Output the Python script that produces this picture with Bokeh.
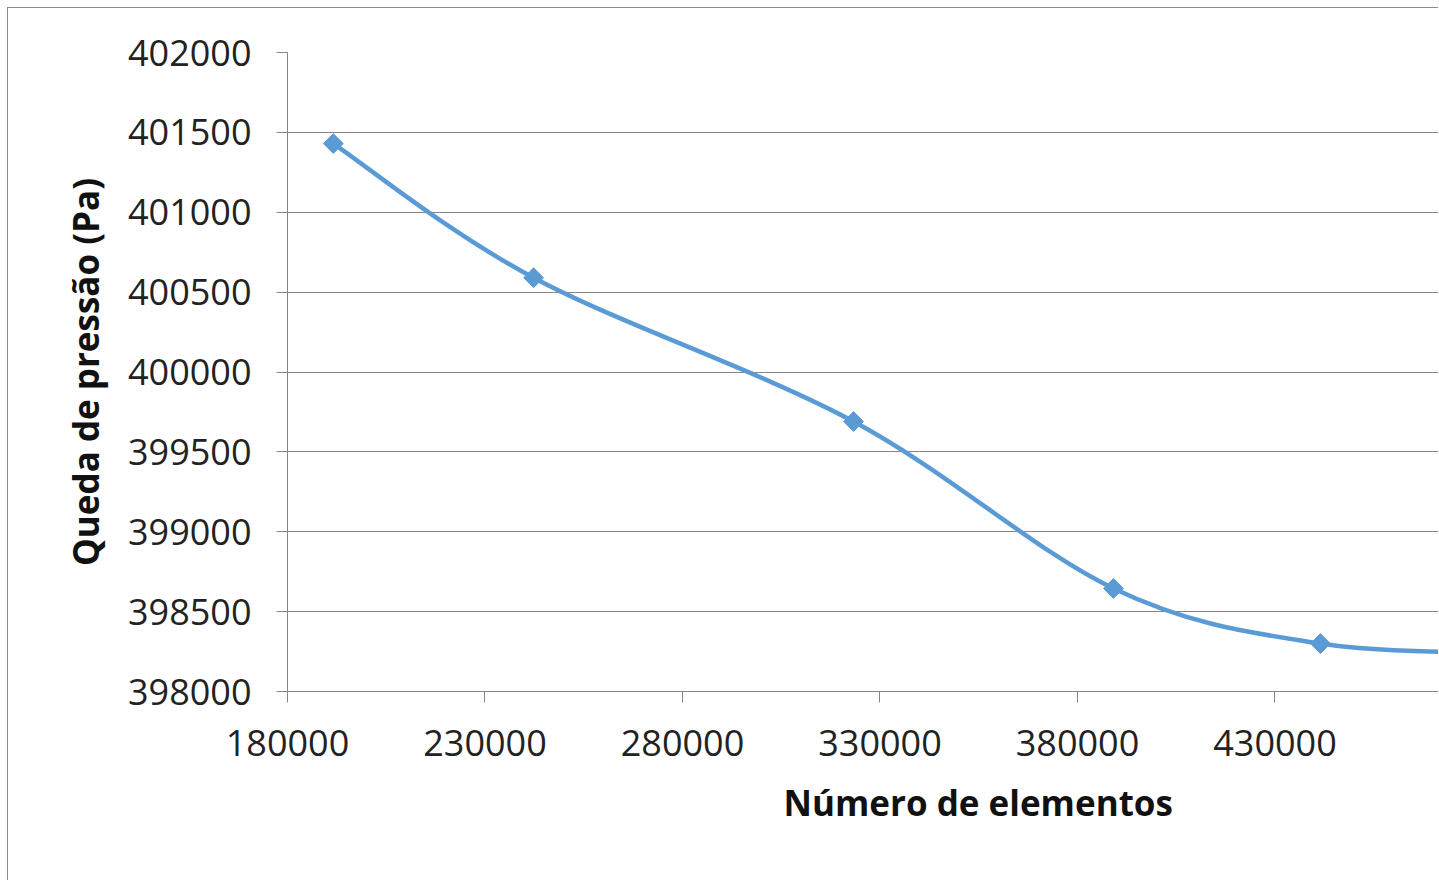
import numpy as np
from bokeh.plotting import figure
from bokeh.models import FixedTicker, BasicTickFormatter, Range1d, Title
from bokeh.embed import file_html
from bokeh.resources import INLINE

# Data
elements = [191600, 242300, 323300, 389100, 441500, 495000]
pressure_drop = [401430, 400590, 399690, 398645, 398300, 398240]
x_ticks = [180000, 230000, 280000, 330000, 380000, 430000, 480000]
y_ticks = [398000, 398500, 399000, 399500, 400000, 400500, 401000, 401500, 402000]
x_title = "Número de elementos"
y_title = "Queda de pressão (Pa)"

BLUE = "#5B9BD5"
GRAY = "#868686"
FONT = "Open Sans"

p = figure(width=1431, height=873, output_backend="svg", toolbar_location=None,
           x_range=Range1d(180000, 471646), y_range=Range1d(398000, 402000),
           min_border_left=279, min_border_top=44, min_border_right=0, min_border_bottom=190)
p.styles = {"border-left": "1px solid #8c8c8c", "border-top": "1px solid #8c8c8c",
            "margin-left": "7px", "margin-top": "7px"}
p.outline_line_color = None
p.background_fill_color = "white"
p.border_fill_color = "white"

# smooth line (Catmull-Rom style Bezier segments through the points)
xs = np.array(elements, dtype=float)
ys = np.array(pressure_drop, dtype=float)
n = len(xs)
x0, y0, x1, y1, cx0, cy0, cx1, cy1 = [], [], [], [], [], [], [], []
for i in range(n - 1):
    ip = max(i - 1, 0)
    inx = min(i + 2, n - 1)
    x0.append(xs[i]); y0.append(ys[i])
    x1.append(xs[i + 1]); y1.append(ys[i + 1])
    cx0.append(xs[i] + (xs[i + 1] - xs[ip]) / 6); cy0.append(ys[i] + (ys[i + 1] - ys[ip]) / 6)
    cx1.append(xs[i + 1] - (xs[inx] - xs[i]) / 6); cy1.append(ys[i + 1] - (ys[inx] - ys[i]) / 6)
p.bezier(x0=x0, y0=y0, x1=x1, y1=y1, cx0=cx0, cy0=cy0, cx1=cx1, cy1=cy1,
         line_color=BLUE, line_width=4.5)
p.scatter(elements, pressure_drop, marker="square", angle=np.pi / 4, size=14,
          fill_color=BLUE, line_color=BLUE)

# axes
for ax in (p.xaxis[0], p.yaxis[0]):
    ax.formatter = BasicTickFormatter(use_scientific=False)
    ax.axis_line_color = GRAY
    ax.major_tick_line_color = GRAY
    ax.major_tick_out = 11
    ax.major_tick_in = 0
    ax.minor_tick_line_color = None
    ax.major_label_text_font = FONT
    ax.major_label_text_font_size = "36px"
    ax.major_label_text_color = "#222222"
    ax.axis_label_text_font = FONT
    ax.axis_label_text_font_style = "bold"
    ax.axis_label_text_font_size = "35px"
    ax.axis_label_text_color = "#111111"

p.xaxis[0].ticker = FixedTicker(ticks=x_ticks)
p.yaxis[0].ticker = FixedTicker(ticks=y_ticks)
p.xaxis[0].major_label_standoff = 27
p.yaxis[0].major_label_standoff = 25
p.yaxis[0].axis_label = y_title
p.yaxis[0].axis_label_standoff = 16

p.xgrid.grid_line_color = None
p.ygrid.grid_line_color = GRAY
p.ygrid.grid_line_width = 1

# x axis title (centred on the original, wider plot area -> shifted right)
p.add_layout(Title(text=x_title, align="left", offset=496, standoff=37,
                   text_font=FONT, text_font_style="bold", text_font_size="35px",
                   text_color="#111111"), "below")

open("out.html", "w").write(file_html(p, INLINE))
